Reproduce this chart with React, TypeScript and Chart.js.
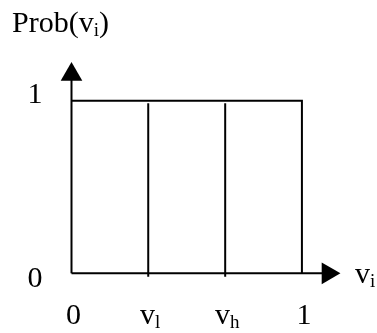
import React, { useEffect, useRef } from 'react';
import { Chart, registerables } from 'chart.js';

Chart.register(...registerables);

// x-axis ticks: value, main text, subscript
const xTickValues = [0, 0.333, 0.667, 1];
const xTickMain = ['0', 'v', 'v', '1'];
const xTickSub = ['', 'l', 'h', ''];
// y-axis ticks
const yTickValues = [0, 1];
const yTickLabels = ['0', '1'];
// uniform density on [0, 1]
const densityX = [0, 1, 1];
const densityY = [1, 1, 0];
// cut points v_l, v_h
const cutPoints = [0.333, 0.667];
const cutLow = -0.02;
const cutHigh = 0.985;
// axis arrow positions (data units)
const xAxisEnd = 1.113;
const yAxisEnd = 1.151;
const xMax = 1.2;
const yMax = 1.3;

const FONT = '"Liberation Serif", "Times New Roman", serif';
const SIZE = 30;

function drawSub(ctx: CanvasRenderingContext2D, main: string, sub: string, x: number, y: number, size: number, align: 'center' | 'left', tail = '') {
  const subSize = Math.round(size * 0.64);
  ctx.font = `${size}px ${FONT}`;
  const wMain = ctx.measureText(main).width;
  const wTail = tail ? ctx.measureText(tail).width : 0;
  ctx.font = `${subSize}px ${FONT}`;
  const wSub = sub ? ctx.measureText(sub).width : 0;
  const total = wMain + wSub + wTail;
  const start = align === 'center' ? x - total / 2 : x;
  ctx.textAlign = 'left';
  ctx.textBaseline = 'alphabetic';
  ctx.font = `${size}px ${FONT}`;
  ctx.fillText(main, start, y);
  if (tail) ctx.fillText(tail, start + wMain + wSub, y);
  if (sub) {
    ctx.font = `${subSize}px ${FONT}`;
    ctx.fillText(sub, start + wMain, y + 4);
  }
}

const labelPlugin = {
  id: 'labels',
  afterDraw(chart: any) {
    const ctx: CanvasRenderingContext2D = chart.ctx;
    const xs = chart.scales.x;
    const ys = chart.scales.y;
    const x0 = xs.getPixelForValue(0);
    const y0 = ys.getPixelForValue(0);
    ctx.save();
    ctx.fillStyle = '#000';
    xTickValues.forEach((v, i) => {
      drawSub(ctx, xTickMain[i], xTickSub[i], xs.getPixelForValue(v) + 2, y0 + 51, SIZE, 'center');
    });
    yTickValues.forEach((v, i) => {
      const py = ys.getPixelForValue(v);
      drawSub(ctx, yTickLabels[i], '', x0 - 36.5, v === 0 ? py + 14 : py + 2.5, SIZE, 'center');
    });
    // axis titles
    drawSub(ctx, 'Prob(v', 'i', x0 - 59.5, ys.getPixelForValue(yAxisEnd) - 43, SIZE, 'left', ')');
    drawSub(ctx, 'v', 'i', xs.getPixelForValue(xAxisEnd) + 27, y0 + 10, SIZE, 'left');
    ctx.restore();
  },
};

export default function App() {
  const ref = useRef<HTMLCanvasElement | null>(null);
  useEffect(() => {
    document.body.style.margin = '0';
    const line = (data: { x: number; y: number }[], extra: any = {}) => ({
      type: 'line' as const,
      data,
      borderColor: '#000',
      backgroundColor: '#000',
      borderWidth: 2,
      pointRadius: 0,
      pointHoverRadius: 0,
      borderCapStyle: 'butt',
      fill: false,
      clip: false,
      tension: 0,
      ...extra,
    });
    const datasets: any[] = [
      line([{ x: 0, y: 0 }, { x: 0, y: yAxisEnd }], { pointRadius: [0, 12.5], pointStyle: 'triangle', rotation: 0, pointBorderWidth: 0 }),
      line([{ x: 0, y: 0 }, { x: xAxisEnd, y: 0 }], { pointRadius: [0, 12.5], pointStyle: 'triangle', rotation: 90, pointBorderWidth: 0 }),
      line(densityX.map((x, i) => ({ x, y: densityY[i] }))),
      ...cutPoints.map((c) => line([{ x: c, y: cutLow }, { x: c, y: cutHigh }])),
    ];
    const chart = new Chart(ref.current as HTMLCanvasElement, {
      type: 'scatter',
      data: { datasets },
      options: {
        responsive: false,
        animation: false,
        events: [],
        layout: { padding: { left: 71.5, right: 29, top: 48.9, bottom: 59.7 } },
        plugins: { legend: { display: false }, tooltip: { enabled: false } },
        scales: {
          x: { type: 'linear', min: 0, max: xMax, display: false },
          y: { type: 'linear', min: 0, max: yMax, display: false },
        },
      },
      plugins: [labelPlugin],
    });
    return () => chart.destroy();
  }, []);
  return (
    <div style={{ width: 377, height: 333, background: '#fff' }}>
      <canvas ref={ref} width={377} height={333} />
    </div>
  );
}
